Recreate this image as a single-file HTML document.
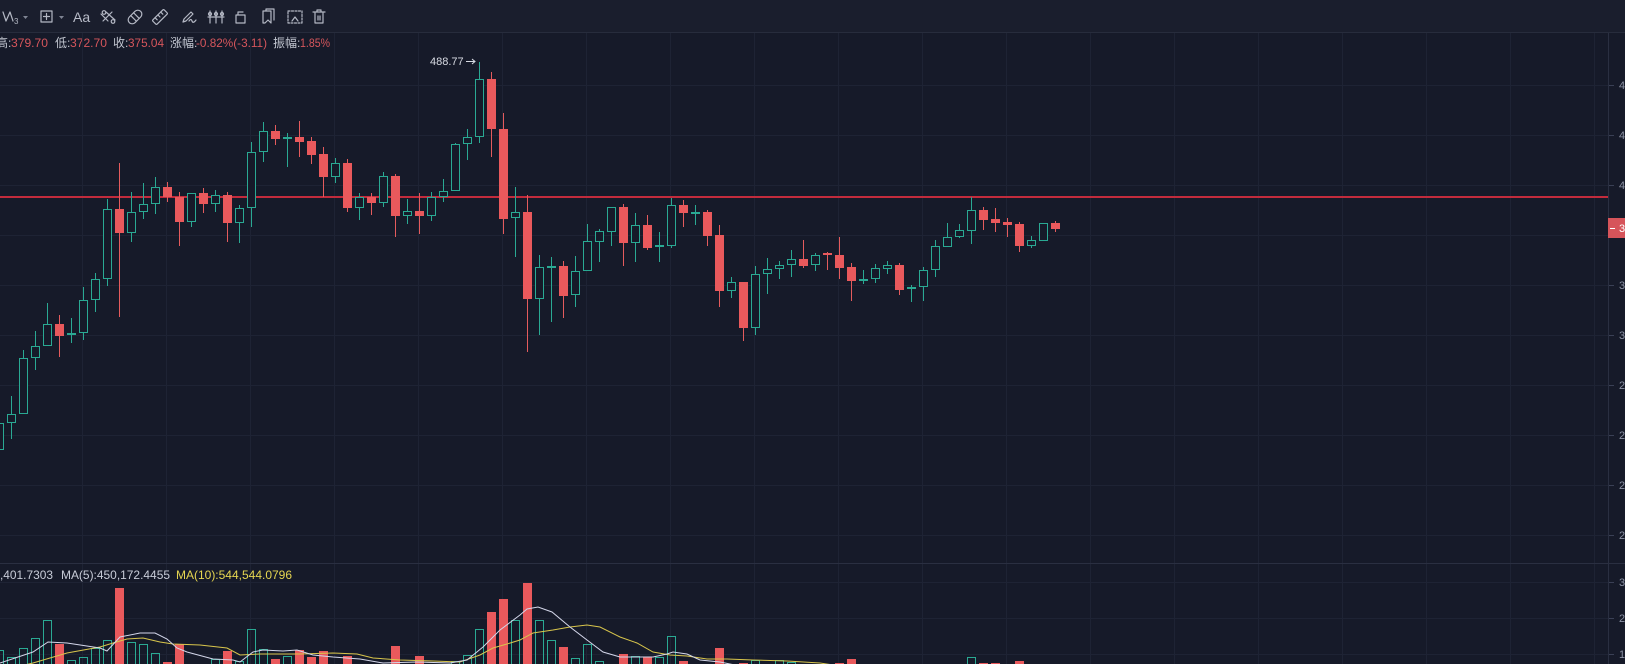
<!DOCTYPE html>
<html><head><meta charset="utf-8"><style>
html,body{margin:0;padding:0;background:#161a29;width:1625px;height:664px;overflow:hidden}
svg{display:block}
text{font-family:"Liberation Sans","Noto Sans CJK SC",sans-serif}
</style></head><body>
<svg width="1625" height="664" viewBox="0 0 1625 664" xmlns="http://www.w3.org/2000/svg">
<rect x="0" y="0" width="1625" height="664" fill="#161a29"/>
<rect x="0" y="0" width="1625" height="32" fill="#1a1e2d"/>
<line x1="0" y1="32.5" x2="1625" y2="32.5" stroke="#272c3c"/>
<g fill="none" stroke="#b4b8c4" stroke-width="1.2" stroke-linecap="round" stroke-linejoin="round">
<polyline points="3,12 6,21 10,12 13,21"/>
<rect x="41" y="11" width="11" height="11"/>
<path d="M46.5 13.5V19.5M43.5 16.5H49.5"/>
<path d="M103 21 L112 12 M101 14 L108 21 M106 12 L115 20"/>
<circle cx="104" cy="12.5" r="1.8"/><circle cx="113" cy="21.5" r="1.8"/>
<g transform="rotate(-45 135 17)"><rect x="127" y="13" width="16" height="8" rx="4"/><path d="M133 13V21M137 13V21"/></g>
<g transform="rotate(-45 160 17)"><rect x="152" y="14" width="16" height="6" rx="1"/><path d="M156 14V17M160 14V17M164 14V17"/></g>
<path d="M183 22 L184 19 L191 12 L193 14 L186 21 Z M189 21 Q191 18 192 21 T196 20"/>
<path d="M210 11 V23 M216 11 V23 M222 11 V23 M208 17 H224"/>
<circle cx="210" cy="14" r="1.5"/><circle cx="216" cy="14" r="1.5"/><circle cx="222" cy="14" r="1.5"/>
<rect x="236" y="15" width="9" height="8"/><path d="M238 15 V12 H243"/>
<path d="M263 11 H271 V23 L268 20 L265 23 H263 Z M266 11 V9 H274 V20"/>
<rect x="288" y="11" width="14" height="12" stroke-dasharray="2,1.5"/><path d="M292 21 L295 17 L298 21"/>
<path d="M313 12 H325 M317 12 V10 H321 V12 M315 13 V23 H323 V13 M318 16 V20 M320 16 V20"/>
</g>
<text x="14" y="24" font-size="8" fill="#b4b8c4">3</text>
<path d="M23 16H28L25.5 19Z M59 16H64L61.5 19Z" fill="#7f8493"/>
<text x="73" y="22" font-size="14" fill="#b8bcc8">Aa</text>
<g font-size="12">
<text x="-4" y="47" fill="#c3c7d1">高:</text>
<text x="11" y="47" fill="#d6565c" textLength="37" lengthAdjust="spacingAndGlyphs">379.70</text>
<text x="55" y="47" fill="#c3c7d1">低:</text>
<text x="70" y="47" fill="#d6565c" textLength="37" lengthAdjust="spacingAndGlyphs">372.70</text>
<text x="113" y="47" fill="#c3c7d1">收:</text>
<text x="128" y="47" fill="#d6565c" textLength="36" lengthAdjust="spacingAndGlyphs">375.04</text>
<text x="170" y="47" fill="#c3c7d1">涨幅:</text>
<text x="196" y="47" fill="#d6565c" textLength="71" lengthAdjust="spacingAndGlyphs">-0.82%(-3.11)</text>
<text x="273" y="47" fill="#c3c7d1">振幅:</text>
<text x="300" y="47" fill="#d6565c" textLength="30" lengthAdjust="spacingAndGlyphs">1.85%</text>
</g>
<path stroke="#1e2334" fill="none" d="M0 85.5H1608M0 135.5H1608M0 185.5H1608M0 235.5H1608M0 285.5H1608M0 335.5H1608M0 385.5H1608M0 435.5H1608M0 485.5H1608M0 535.5H1608M0 582.5H1608M0 618.5H1608M0 654.5H1608M82.5 33V664M166.5 33V664M250.5 33V664M334.5 33V664M418.5 33V664M502.5 33V664M586.5 33V664M670.5 33V664M754.5 33V664M838.5 33V664M922.5 33V664M1006.5 33V664M1090.5 33V664M1174.5 33V664M1258.5 33V664M1342.5 33V664M1426.5 33V664M1510.5 33V664M1594.5 33V664"/>
<path stroke="#2a2f41" fill="none" d="M0 563.5H1625M1608.5 33V664"/>
<path stroke="#3a4055" fill="none" d="M1609 85.5H1614M1609 135.5H1614M1609 185.5H1614M1609 285.5H1614M1609 335.5H1614M1609 385.5H1614M1609 435.5H1614M1609 485.5H1614M1609 535.5H1614M1609 582.5H1614M1609 618.5H1614M1609 654.5H1614"/>
<g font-size="11" fill="#8c92a4">
<text x="1619" y="89">470.00</text>
<text x="1619" y="139">440.00</text>
<text x="1619" y="189">410.00</text>
<text x="1619" y="289">350.00</text>
<text x="1619" y="339">320.00</text>
<text x="1619" y="389">290.00</text>
<text x="1619" y="439">260.00</text>
<text x="1619" y="489">230.00</text>
<text x="1619" y="539">200.00</text>
<text x="1619" y="586">3M</text>
<text x="1619" y="622">2M</text>
<text x="1619" y="658">1M</text>
</g>
<line x1="0" y1="197" x2="1608" y2="197" stroke="#c22b3c" stroke-width="2"/>
<rect x="1608" y="218" width="17" height="20" fill="#d6545a"/>
<line x1="1610" y1="228.5" x2="1615" y2="228.5" stroke="#ffffff"/>
<text x="1619" y="232" font-size="11" fill="#ffffff">375.04</text>
<path fill="none" stroke="#2aa993" d="M-0.5 418V458M11.5 396V439M23.5 350V414M35.5 331V370M47.5 303V346M71.5 318V343M83.5 287V340M95.5 273V312M107.5 199V286M131.5 192V242M143.5 183V219M155.5 177V214M191.5 193V227M215.5 190V212M239.5 205V243M251.5 142V227M263.5 122V162M287.5 133V167M335.5 158V183M359.5 193V220M383.5 172V207M407.5 199V224M431.5 192V221M443.5 179V202M455.5 143V191M467.5 129V160M479.5 62V143M515.5 187V257M539.5 255V335M551.5 257V322M575.5 256V307M587.5 224V271M599.5 229V262M611.5 207V246M635.5 213V262M659.5 232V262M671.5 198V248M695.5 205V225M731.5 277V298M755.5 266V335M767.5 258V294M779.5 261V279M791.5 250V277M815.5 253V271M863.5 270V284M875.5 264V283M887.5 261V274M911.5 285V302M923.5 267V301M935.5 240V277M947.5 223V247M959.5 224V238M971.5 197V244M1031.5 236V248M1043.5 223V241"/>
<path fill="none" stroke="#e45b5d" d="M59.5 315V357M119.5 163V317M167.5 182V202M179.5 192V246M203.5 188V213M227.5 192V242M275.5 125V145M299.5 121V157M311.5 137V164M323.5 147V197M347.5 159V212M371.5 193V215M395.5 174V237M419.5 193V234M491.5 72V157M503.5 113V234M527.5 195V352M563.5 261V318M623.5 204V266M647.5 215V250M683.5 200V227M707.5 210V246M719.5 225V307M743.5 282V341M803.5 240V268M827.5 252V270M839.5 237V279M851.5 263V301M899.5 263V295M983.5 207V230M995.5 208V232M1007.5 218V237M1019.5 222V252M1055.5 221V232"/>
<path fill="#161a29" stroke="#2aa993" d="M-4.5 423.5h8v26h-8zM7.5 414.5h8v8h-8zM19.5 358.5h8v55h-8zM31.5 346.5h8v11h-8zM43.5 324.5h8v21h-8zM67.5 333.5h8v1h-8zM79.5 300.5h8v32h-8zM91.5 279.5h8v20h-8zM103.5 209.5h8v69h-8zM127.5 212.5h8v20h-8zM139.5 204.5h8v7h-8zM151.5 187.5h8v16h-8zM187.5 193.5h8v28h-8zM211.5 195.5h8v8h-8zM235.5 208.5h8v14h-8zM247.5 152.5h8v55h-8zM259.5 131.5h8v20h-8zM283.5 137.5h8v1h-8zM331.5 163.5h8v13h-8zM355.5 197.5h8v10h-8zM379.5 176.5h8v26h-8zM403.5 211.5h8v4h-8zM427.5 197.5h8v18h-8zM439.5 191.5h8v5h-8zM451.5 144.5h8v46h-8zM463.5 137.5h8v6h-8zM475.5 79.5h8v57h-8zM511.5 212.5h8v5h-8zM535.5 267.5h8v31h-8zM547.5 266.5h8v1h-8zM571.5 271.5h8v23h-8zM583.5 241.5h8v29h-8zM595.5 231.5h8v10h-8zM607.5 207.5h8v24h-8zM631.5 225.5h8v17h-8zM655.5 245.5h8v1h-8zM667.5 205.5h8v40h-8zM691.5 212.5h8v1h-8zM727.5 282.5h8v8h-8zM751.5 274.5h8v53h-8zM763.5 269.5h8v4h-8zM775.5 265.5h8v3h-8zM787.5 259.5h8v5h-8zM811.5 255.5h8v9h-8zM859.5 279.5h8v1h-8zM871.5 268.5h8v10h-8zM883.5 265.5h8v3h-8zM907.5 287.5h8v1h-8zM919.5 270.5h8v16h-8zM931.5 246.5h8v23h-8zM943.5 237.5h8v9h-8zM955.5 230.5h8v6h-8zM967.5 210.5h8v20h-8zM1027.5 240.5h8v5h-8zM1039.5 223.5h8v17h-8z"/>
<path fill="#e9595c" d="M55 324h9v12h-9zM115 209h9v24h-9zM163 187h9v10h-9zM175 197h9v25h-9zM199 193h9v11h-9zM223 195h9v28h-9zM271 131h9v8h-9zM295 137h9v5h-9zM307 141h9v14h-9zM319 154h9v23h-9zM343 163h9v45h-9zM367 197h9v6h-9zM391 176h9v40h-9zM415 211h9v5h-9zM487 79h9v50h-9zM499 129h9v90h-9zM523 212h9v87h-9zM559 266h9v30h-9zM619 207h9v36h-9zM643 225h9v23h-9zM679 205h9v8h-9zM703 212h9v24h-9zM715 235h9v56h-9zM739 282h9v46h-9zM799 259h9v7h-9zM823 253h9v2h-9zM835 255h9v13h-9zM847 267h9v14h-9zM895 265h9v25h-9zM979 210h9v10h-9zM991 219h9v4h-9zM1003 222h9v3h-9zM1015 224h9v22h-9zM1051 223h9v6h-9z"/>
<text x="430" y="65" font-size="11" fill="#d8dbe3">488.77</text>
<path d="M466 61.5H475M472 59L475 61.5L472 64" fill="none" stroke="#d8dbe3"/>
<g font-size="12">
<text x="0" y="579" fill="#c8ccd8" textLength="53" lengthAdjust="spacingAndGlyphs">,401.7303</text>
<text x="61" y="579" fill="#c8ccd8" textLength="109" lengthAdjust="spacingAndGlyphs">MA(5):450,172.4455</text>
<text x="176" y="579" fill="#e6d651" textLength="116" lengthAdjust="spacingAndGlyphs">MA(10):544,544.0796</text>
</g>
<path fill="#e9595c" d="M55 644h9V670h-9zM115 588h9V670h-9zM163 662h9V670h-9zM175 644h9V670h-9zM223 651h9V670h-9zM271 659h9V670h-9zM295 650h9V670h-9zM307 657h9V670h-9zM319 651h9V670h-9zM343 656h9V670h-9zM391 646h9V670h-9zM415 656h9V670h-9zM487 612h9V670h-9zM499 599h9V670h-9zM523 583h9V670h-9zM559 647h9V670h-9zM619 654h9V670h-9zM643 657h9V670h-9zM679 661h9V670h-9zM715 648h9V670h-9zM739 663h9V670h-9zM835 663h9V670h-9zM847 659h9V670h-9zM979 663h9V670h-9zM991 663h9V670h-9zM1015 661h9V670h-9z"/>
<path fill="none" stroke="#2aa993" d="M-4.5 650.5h8V670h-8zM7.5 657.5h8V670h-8zM19.5 648.5h8V670h-8zM31.5 638.5h8V670h-8zM43.5 620.5h8V670h-8zM67.5 660.5h8V670h-8zM79.5 657.5h8V670h-8zM91.5 648.5h8V670h-8zM103.5 640.5h8V670h-8zM127.5 642.5h8V670h-8zM139.5 644.5h8V670h-8zM151.5 653.5h8V670h-8zM211.5 659.5h8V670h-8zM235.5 661.5h8V670h-8zM247.5 629.5h8V670h-8zM259.5 649.5h8V670h-8zM283.5 656.5h8V670h-8zM451.5 661.5h8V670h-8zM463.5 655.5h8V670h-8zM475.5 629.5h8V670h-8zM511.5 620.5h8V670h-8zM535.5 620.5h8V670h-8zM547.5 640.5h8V670h-8zM571.5 658.5h8V670h-8zM583.5 644.5h8V670h-8zM595.5 661.5h8V670h-8zM631.5 656.5h8V670h-8zM655.5 657.5h8V670h-8zM667.5 636.5h8V670h-8zM751.5 660.5h8V670h-8zM775.5 660.5h8V670h-8zM787.5 662.5h8V670h-8zM967.5 657.5h8V670h-8z"/>
<polyline fill="none" stroke="#d9c64c" points="20,666 33,663 50,658 67,653 100,647 113,643 127,639 143,638 160,642 173,644 200,645 227,648 240,655 260,654 300,654 333,653 357,654 373,658 400,660 433,661 460,662 480,655 493,648 507,644 520,640 533,633 553,630 570,627 587,625 600,627 620,637 637,643 653,652 670,655 687,656 707,659 727,659 753,660 787,661 820,663 840,666"/>
<polyline fill="none" stroke="#d4d7ea" points="0,663 33,652 48,642 67,643 100,648 107,651 120,637 140,633 155,633 167,639 177,648 187,652 213,659 233,660 240,662 253,652 263,650 283,651 297,650 313,655 333,657 360,659 383,663 417,662 450,663 467,660 483,647 500,630 520,615 527,609 538,607 552,612 570,627 587,640 603,652 620,657 653,657 667,654 673,652 687,654 700,660 720,662 740,666"/>
</svg>
</body></html>
